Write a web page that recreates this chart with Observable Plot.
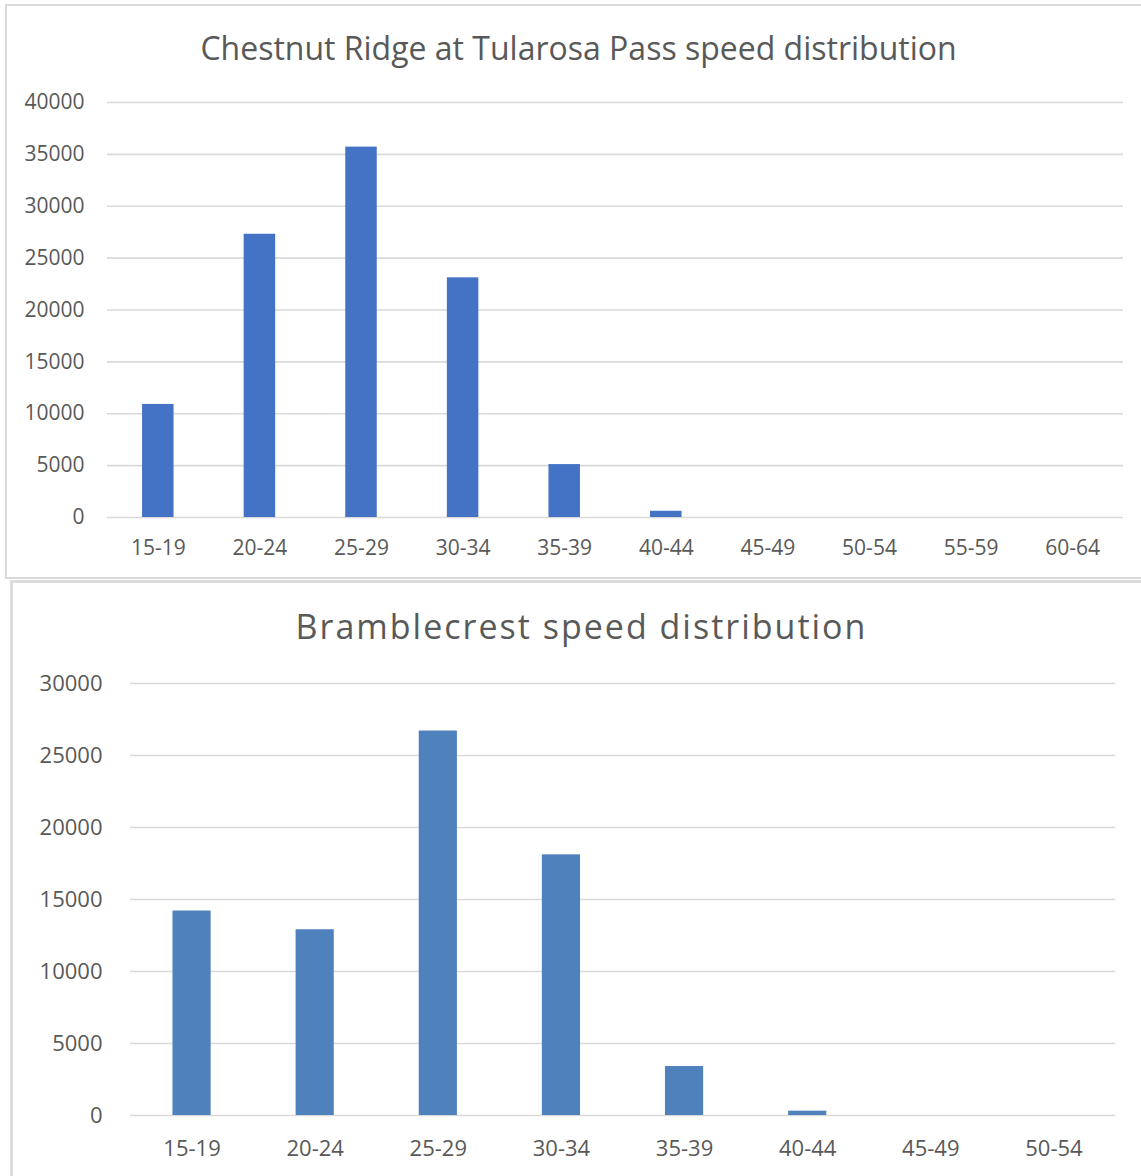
<!DOCTYPE html>
<html>
<head>
<meta charset="utf-8">
<script src="https://cdn.jsdelivr.net/npm/d3@7"></script>
<script src="https://cdn.jsdelivr.net/npm/@observablehq/plot@0.6"></script>
<style>
  html, body { margin: 0; padding: 0; background: #ffffff; }
  body { width: 1141px; height: 1176px; position: relative; overflow: hidden; font-family: "Open Sans", sans-serif; }
  .frame { position: absolute; box-sizing: border-box; background: #fff; }
  #frame1 { left: 5px; top: 4px; width: 1150px; height: 575px; border: 2px solid #d9d9d9; }
  #frame2 { left: 10px; top: 580px; width: 1150px; height: 620px; border: 3px solid #dcdcdc; }
  .title { position: absolute; width: 1141px; text-align: center; color: #595959; white-space: nowrap; }
  #title1 { left: 8px; top: 26px; font-size: 32px; }
  #title2 { left: 11px; top: 603px; font-size: 34px; letter-spacing: 2px; }
  .chart { position: absolute; left: 0; }
  #chart1 { top: 80px; }
  #chart2 { top: 660px; }
</style>
</head>
<body>
<div class="frame" id="frame1"></div>
<div class="frame" id="frame2"></div>
<div class="title" id="title1">Chestnut Ridge at Tularosa Pass speed distribution</div>
<div class="title" id="title2">Bramblecrest speed distribution</div>
<div class="chart" id="chart1"></div>
<div class="chart" id="chart2"></div>
<script>
const chestnutCategories = ["15-19", "20-24", "25-29", "30-34", "35-39", "40-44", "45-49", "50-54", "55-59", "60-64"];
const chestnutCounts = [10900, 27300, 35700, 23100, 5100, 600, 0, 0, 0, 0];
const chestnutTicks = [0, 5000, 10000, 15000, 20000, 25000, 30000, 35000, 40000];

const brambleCategories = ["15-19", "20-24", "25-29", "30-34", "35-39", "40-44", "45-49", "50-54"];
const brambleCounts = [14200, 12900, 26700, 18100, 3400, 300, 0, 0];
const brambleTicks = [0, 5000, 10000, 15000, 20000, 25000, 30000];

function makeChart(cats, vals, ticks, opts) {
  const data = cats.map((c, i) => ({bin: c, count: vals[i]}));
  return Plot.plot({
    width: 1141,
    height: opts.height,
    marginLeft: opts.marginLeft,
    marginRight: opts.marginRight,
    marginTop: opts.marginTop,
    marginBottom: opts.marginBottom,
    style: {fontFamily: "'Open Sans', sans-serif", color: "#595959", background: "transparent", overflow: "visible"},
    x: {type: "band", domain: cats, paddingInner: 0.69, paddingOuter: 0.345, round: false, label: null},
    y: {domain: [0, ticks[ticks.length - 1]], label: null},
    marks: [
      Plot.ruleY(ticks, {stroke: "#d9d9d9", strokeWidth: 1.6}),
      Plot.barY(data, {x: "bin", y: "count", fill: opts.fill}),
      Plot.axisY({ticks: ticks, tickSize: 0, tickPadding: opts.yPad, fontSize: opts.fontSize, tickFormat: d => String(d), label: null, fill: "#595959", style: {letterSpacing: opts.ls}}),
      Plot.axisX({tickSize: 0, tickPadding: opts.xPad, fontSize: opts.fontSize, label: null, fill: "#595959", style: {letterSpacing: opts.ls}})
    ]
  });
}

document.getElementById("chart1").appendChild(makeChart(chestnutCategories, chestnutCounts, chestnutTicks, {
  height: 500, marginLeft: 107, marginRight: 18, marginTop: 22, marginBottom: 63,
  fill: "#4472C4", fontSize: 21, yPad: 23, xPad: 23, ls: "0px"
}));
document.getElementById("chart2").appendChild(makeChart(brambleCategories, brambleCounts, brambleTicks, {
  height: 516, marginLeft: 130, marginRight: 26, marginTop: 23, marginBottom: 61,
  fill: "#4F81BD", fontSize: 22, yPad: 28, xPad: 25, ls: "1.5px"
}));
</script>
</body>
</html>
